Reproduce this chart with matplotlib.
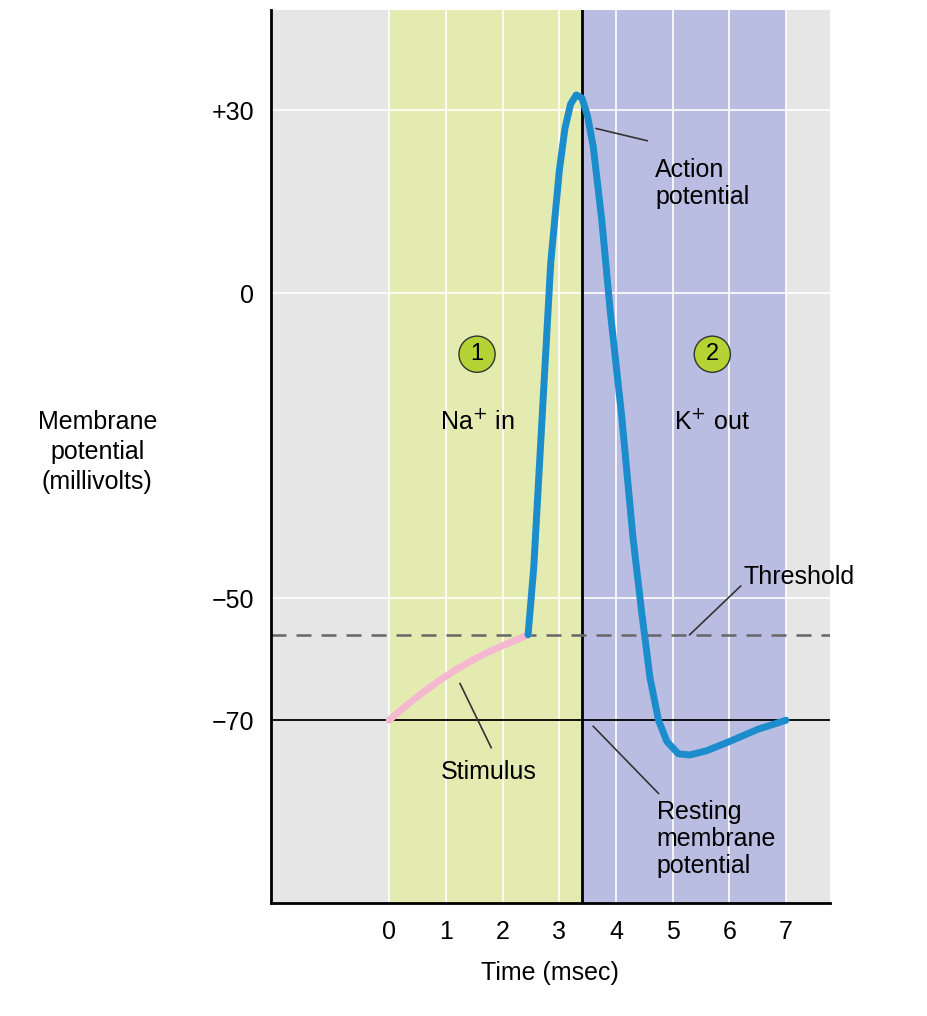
import matplotlib.pyplot as plt

plt.rcParams['font.family'] = ['Liberation Sans', 'DejaVu Sans']

# data
stim_t = [0, 0.3, 0.6, 0.9, 1.2, 1.5, 1.8, 2.1, 2.45]
stim_v = [-70, -67.6, -65.4, -63.4, -61.6, -60.0, -58.6, -57.4, -56]
ap_t = [2.45, 2.55, 2.7, 2.85, 3.0, 3.1, 3.2, 3.3, 3.4, 3.5, 3.6, 3.75, 3.9, 4.1,
        4.3, 4.45, 4.6, 4.75, 4.9, 5.1, 5.3, 5.6, 6.0, 6.5, 7.0]
ap_v = [-56, -45, -20, 5, 20, 27, 31, 32.5, 32, 29, 24, 12, -3, -20,
        -40, -52, -63, -70, -73.5, -75.5, -75.7, -75, -73.5, -71.5, -70]
xticks = [0, 1, 2, 3, 4, 5, 6, 7]
yticks = [30, 0, -50, -70]
ylabels = ['+30', '0', '\u221250', '\u221270']
threshold = -56
resting = -70

fig = plt.figure(figsize=(9.27, 10.16), dpi=100)
ax = fig.add_axes([0.292, 0.111, 0.603, 0.879])
xmin, xmax, ymin, ymax = -2.09, 7.77, -100, 46.4
ax.set_xlim(xmin, xmax)
ax.set_ylim(ymin, ymax)

ax.axvspan(xmin, 0, color='#e6e6e6', lw=0)
ax.axvspan(0, 3.4, color='#e4ebb0', lw=0)
ax.axvspan(3.4, 7, color='#babde2', lw=0)
ax.axvspan(7, xmax, color='#e6e6e6', lw=0)
for x in xticks:
    ax.axvline(x, color='white', lw=1.2, zorder=1)
for y in [30, 0, -50]:
    ax.axhline(y, color='white', lw=1.2, zorder=1)
ax.axvline(3.4, color='black', lw=2, zorder=2)
ax.axhline(threshold, color='#666666', lw=1.8, ls=(0, (6, 4)), zorder=2)
ax.axhline(resting, color='black', lw=1.3, zorder=2)

ax.plot(stim_t, stim_v, color='#f4b8d0', lw=5, solid_capstyle='round', zorder=3)
ax.plot(ap_t, ap_v, color='#1b8ccc', lw=5, solid_capstyle='round',
        solid_joinstyle='round', zorder=4)

ax.set_xticks(xticks)
ax.set_yticks(yticks)
ax.set_yticklabels(ylabels)
ax.tick_params(length=0, labelsize=18, pad=12)
for s in ['top', 'right']:
    ax.spines[s].set_visible(False)
for s in ['left', 'bottom']:
    ax.spines[s].set_linewidth(2)
ax.set_xlabel('Time (msec)', fontsize=18, labelpad=12)
fig.text(0.105, 0.555, 'Membrane\npotential\n(millivolts)', fontsize=18,
         ha='center', va='center', linespacing=1.3)

fs = 18
for x, n, lab in [(1.55, '1', 'Na$^{+}$ in'), (5.7, '2', 'K$^{+}$ out')]:
    ax.text(x, -10, n, fontsize=17, ha='center', va='center',
            bbox=dict(boxstyle='circle,pad=0.3', fc='#b5d334', ec='#333333', lw=1))
    ax.text(x, -21, lab, fontsize=fs, ha='center', va='center')

ax.plot([3.65, 4.55], [27, 25], color='#333333', lw=1.2)
ax.text(4.69, 18, 'Action\npotential', fontsize=fs, va='center', linespacing=1.2)
ax.plot([5.3, 6.2], [threshold, -48], color='#333333', lw=1.2)
ax.text(6.25, -46.5, 'Threshold', fontsize=fs, va='center')
ax.plot([1.25, 1.8], [-64, -74.5], color='#333333', lw=1.2)
ax.text(1.76, -78.5, 'Stimulus', fontsize=fs, ha='center', va='center')
ax.plot([3.6, 4.75], [-71, -82], color='#333333', lw=1.2)
ax.text(4.72, -89.5, 'Resting\nmembrane\npotential', fontsize=fs, va='center', linespacing=1.15)

fig.savefig('out.png', dpi=100)
